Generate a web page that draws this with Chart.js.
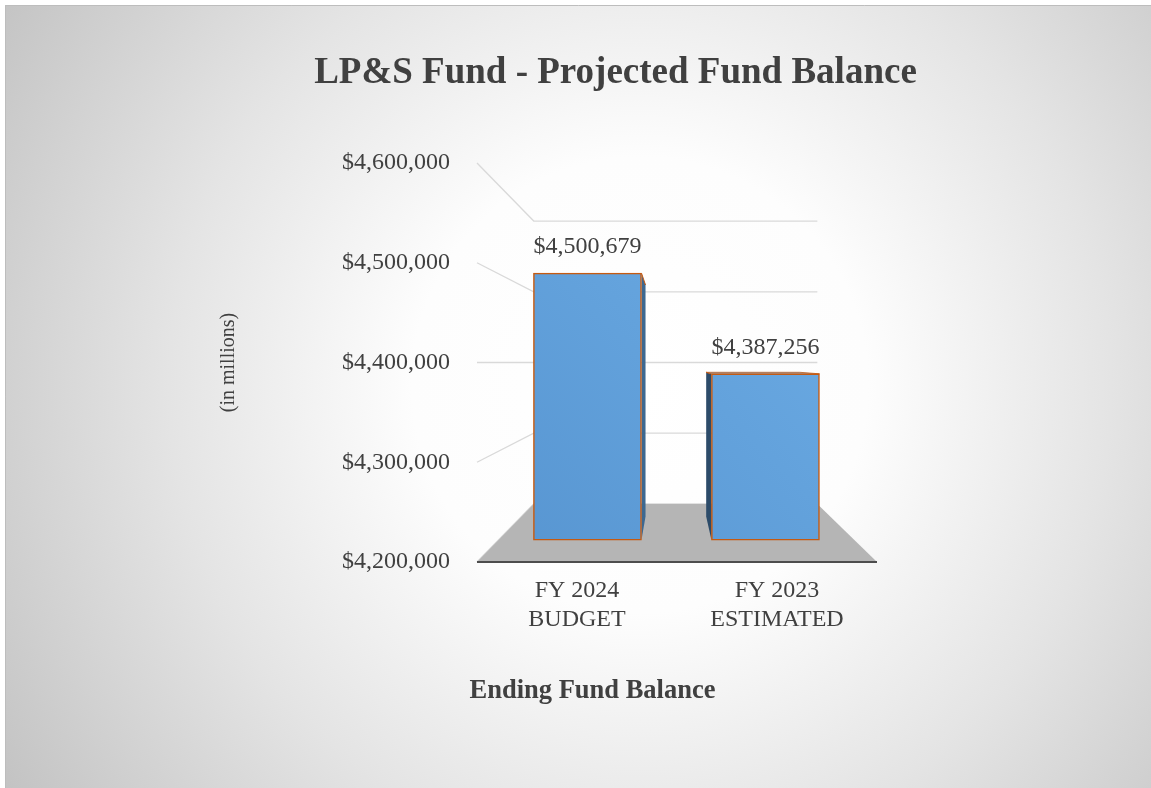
<!DOCTYPE html>
<html>
<head>
<meta charset="utf-8">
<title>LP&amp;S Fund - Projected Fund Balance</title>
<script src="https://cdn.jsdelivr.net/npm/chart.js@4.4.1/dist/chart.umd.min.js"></script>
<style>
  html, body { margin: 0; padding: 0; background: #ffffff; }
  canvas { display: block; }
</style>
</head>
<body>
<canvas id="chart" width="1151" height="788"></canvas>
<script>
// ---- data ----
const categories = [['FY 2024', 'BUDGET'], ['FY 2023', 'ESTIMATED']];
const balances = [4500679, 4387256];
const axisMin = 4200000;
const axisMax = 4600000;
const axisStep = 100000;
const chartTitle = 'LP&S Fund - Projected Fund Balance';
const valueAxisTitle = '(in millions)';
const categoryAxisTitle = 'Ending Fund Balance';

// ---- look ----
const SERIF = "'Liberation Serif', 'Times New Roman', serif";
const TEXT = '#404040';
const EDGE = '#c55a11';

// 3D look: every depth plane is a scaled copy of the front axis plane,
// shrunk toward one vanishing point.
const BAR_PLANE = 0.89;    // front faces of the columns
const BACK_PLANE = 0.709;  // back wall / far edge of the floor
const BAR_DEPTH = 0.133;   // how far the columns reach toward the vanishing point
const VANISH_X = 0.4875;   // vanishing point, fraction of plot width
const VANISH_Y = 0.5;      // vanishing point, fraction of the value range

const money = v => '$' + Math.round(v).toString().replace(/\B(?=(\d{3})+(?!\d))/g, ',');

// Hidden scales for the column plane, derived from the front axes.
const valueRange = axisMax - axisMin;
const vanishValue = axisMin + VANISH_Y * valueRange;
const barValueSpan = valueRange / BAR_PLANE;
const barValueMin = vanishValue - VANISH_Y * barValueSpan;
const barValueMax = barValueMin + barValueSpan;
const n = categories.length;
const barIndexMin = n * (VANISH_X - VANISH_X / BAR_PLANE) - 0.5;
const barIndexMax = n * (VANISH_X + (1 - VANISH_X) / BAR_PLANE) - 0.5;

function vanishPoint(chart) {
  const a = chart.chartArea;
  return { x: a.left + VANISH_X * (a.right - a.left), y: chart.scales.y.getPixelForValue(vanishValue) };
}
const toward = (p, vp, f) => p + (vp - p) * f;

const backdrop = {
  id: 'backdrop',
  beforeDraw(chart) {
    const c = chart.ctx, W = chart.width, H = chart.height;
    c.save();
    c.fillStyle = '#ffffff';
    c.fillRect(0, 0, W, H);
    const g = c.createRadialGradient(640, 385, 0, 640, 385, 760);
    g.addColorStop(0, '#ffffff');
    g.addColorStop(0.3, '#fdfdfd');
    g.addColorStop(0.62, '#e4e4e4');
    g.addColorStop(1, '#c2c2c2');
    c.fillStyle = g;
    c.fillRect(5, 5, W - 5, H - 5);
    c.strokeStyle = '#bdbdbd';
    c.lineWidth = 1;
    c.beginPath();
    c.moveTo(5.5, H);
    c.lineTo(5.5, 5.5);
    c.lineTo(W, 5.5);
    c.stroke();
    c.restore();
  }
};

const walls = {
  id: 'walls',
  beforeDatasetsDraw(chart) {
    const c = chart.ctx, a = chart.chartArea, ys = chart.scales.y;
    const vp = vanishPoint(chart);
    const backL = toward(a.left, vp.x, 1 - BACK_PLANE);
    const backR = toward(a.right, vp.x, 1 - BACK_PLANE);
    c.save();
    // gridlines on the side and back walls
    c.strokeStyle = '#d9d9d9';
    c.lineWidth = 1.3;
    ys.ticks.forEach(t => {
      const yf = ys.getPixelForValue(t.value);
      const yb = toward(yf, vp.y, 1 - BACK_PLANE);
      c.beginPath();
      c.moveTo(a.left, yf);
      c.lineTo(backL, yb);
      c.lineTo(backR, yb);
      c.stroke();
    });
    // floor
    const yf0 = ys.getPixelForValue(axisMin);
    const yb0 = toward(yf0, vp.y, 1 - BACK_PLANE);
    c.fillStyle = '#b5b5b5';
    c.beginPath();
    c.moveTo(a.left, yf0);
    c.lineTo(a.right, yf0);
    c.lineTo(backR, yb0);
    c.lineTo(backL, yb0);
    c.closePath();
    c.fill();
    c.strokeStyle = '#4d4d4d';
    c.lineWidth = 2;
    c.beginPath();
    c.moveTo(a.left, yf0);
    c.lineTo(a.right, yf0);
    c.stroke();

    // column sides and tops, behind the front faces
    const meta = chart.getDatasetMeta(0);
    meta.data.forEach(el => {
      const L = el.x - el.width / 2, R = el.x + el.width / 2, T = el.y, B = el.base;
      const T2 = toward(T, vp.y, BAR_DEPTH), B2 = toward(B, vp.y, BAR_DEPTH);
      if (R < vp.x || L > vp.x) {
        const X = R < vp.x ? R : L;
        const X2 = toward(X, vp.x, BAR_DEPTH);
        c.fillStyle = R < vp.x ? '#3d6890' : '#2c4b69';
        c.beginPath();
        c.moveTo(X, T); c.lineTo(X2, T2); c.lineTo(X2, B2); c.lineTo(X, B);
        c.closePath();
        c.fill();
        c.strokeStyle = EDGE;
        c.lineWidth = 1;
        c.beginPath();
        c.moveTo(X, T); c.lineTo(X2, T2);
        c.stroke();
      }
      if (T > vp.y) {
        const L2 = toward(L, vp.x, BAR_DEPTH), R2 = toward(R, vp.x, BAR_DEPTH);
        c.fillStyle = '#6aaae2';
        c.strokeStyle = EDGE;
        c.lineWidth = 0.8;
        c.beginPath();
        c.moveTo(L, T); c.lineTo(R, T); c.lineTo(R2, T2); c.lineTo(L2, T2);
        c.closePath();
        c.fill();
        c.stroke();
      }
    });
    c.restore();
  }
};

const valueLabels = {
  id: 'valueLabels',
  afterDatasetsDraw(chart) {
    const c = chart.ctx;
    const meta = chart.getDatasetMeta(0);
    c.save();
    c.fillStyle = TEXT;
    c.font = '24px ' + SERIF;
    c.textAlign = 'center';
    c.textBaseline = 'middle';
    meta.data.forEach((el, i) => {
      c.fillText(money(balances[i]), el.x, el.y - 26);
    });
    c.restore();
  }
};

const categoryCaption = {
  id: 'categoryCaption',
  afterDraw(chart) {
    const c = chart.ctx;
    c.save();
    c.fillStyle = TEXT;
    c.font = 'bold 26.5px ' + SERIF;
    c.textAlign = 'center';
    c.textBaseline = 'middle';
    c.fillText(categoryAxisTitle, 592.5, 691);
    c.restore();
  }
};

function frontFill(ctx) {
  const a = ctx.chart.chartArea;
  if (!a) return '#5b9bd5';
  const g = ctx.chart.ctx.createLinearGradient(a.left, a.bottom, a.right, a.top);
  g.addColorStop(0, '#5694d0');
  g.addColorStop(1, '#70b0e8');
  return g;
}

new Chart(document.getElementById('chart'), {
  type: 'bar',
  data: {
    labels: categories,
    datasets: [{
      data: balances.map((v, i) => ({ x: i, y: v })),
      xAxisID: 'xBar',
      yAxisID: 'yBar',
      base: axisMin,
      backgroundColor: frontFill,
      borderColor: EDGE,
      borderWidth: 1.5,
      borderSkipped: false,
      barThickness: 'flex',
      categoryPercentage: 1,
      barPercentage: 0.607
    }]
  },
  options: {
    responsive: false,
    animation: false,
    layout: { padding: { left: 80, right: 0, top: 0, bottom: 0 } },
    plugins: {
      legend: { display: false },
      tooltip: { enabled: false },
      title: {
        display: true,
        text: chartTitle,
        color: TEXT,
        font: { family: SERIF, size: 37, weight: 'bold' },
        padding: { top: 51, bottom: 67.6 }
      }
    },
    scales: {
      x: {
        type: 'category',
        position: 'bottom',
        offset: true,
        grid: { display: false, drawTicks: false },
        border: { display: false },
        ticks: { color: TEXT, font: { family: SERIF, size: 24 }, padding: 14.6, maxRotation: 0, autoSkip: false },
        afterFit: s => { s.height = 226; }
      },
      y: {
        type: 'linear',
        position: 'left',
        min: axisMin,
        max: axisMax,
        grid: { display: false, drawTicks: false },
        border: { display: false },
        ticks: { stepSize: axisStep, callback: v => money(v), color: TEXT, font: { family: SERIF, size: 24 }, padding: 27 },
        title: { display: true, text: valueAxisTitle, color: TEXT, font: { family: SERIF, size: 20 }, padding: { top: 137, bottom: 0 } },
        afterFit: s => { s.width = 397; }
      },
      xBar: {
        type: 'linear',
        axis: 'x',
        position: 'bottom',
        display: false,
        offset: false,
        grid: { offset: false },
        min: barIndexMin,
        max: barIndexMax
      },
      yBar: {
        type: 'linear',
        axis: 'y',
        position: 'right',
        min: barValueMin,
        max: barValueMax,
        grid: { display: false, drawTicks: false },
        border: { display: false },
        ticks: { display: false },
        afterFit: s => { s.width = 274; }
      }
    }
  },
  plugins: [backdrop, walls, valueLabels, categoryCaption]
});
</script>
</body>
</html>
